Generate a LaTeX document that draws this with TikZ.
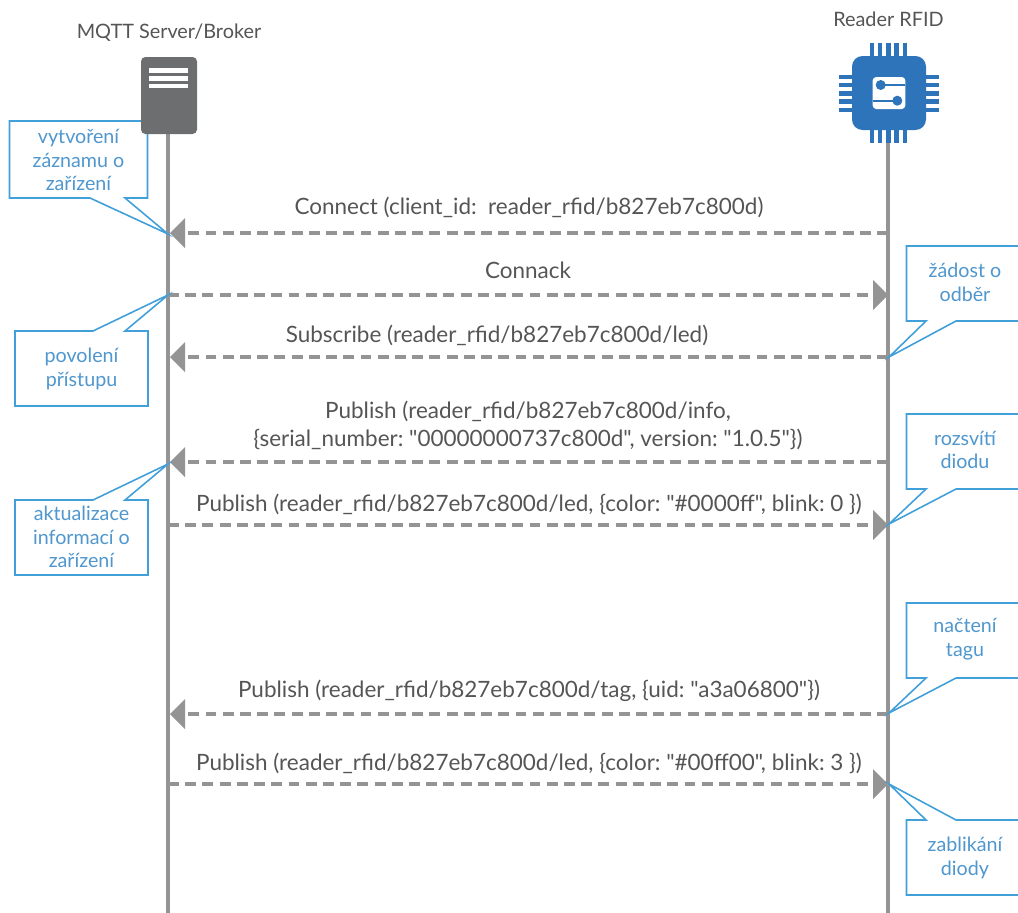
\documentclass[tikz,border=0pt]{standalone}
\usepackage{fontspec}
\setmainfont{Lato}[Ligatures=TeXOff]
\frenchspacing
\usepackage{tikz}
\usetikzlibrary{calc}
\definecolor{lifegray}{HTML}{949494}
\definecolor{servgray}{HTML}{6D6E70}
\definecolor{chipblue}{HTML}{2E74BA}
\definecolor{notelinecol}{HTML}{41A0DA}
\definecolor{notetext}{HTML}{4F97CE}
\definecolor{msgtext}{HTML}{555555}
\tikzset{
  lifeline/.style={lifegray,line width=2pt},
  msg/.style={lifegray,line width=2pt,dash pattern=on 6.2pt off 3.6pt},
  tip/.style={fill=lifegray,draw=none},
  msglabel/.style={text=msgtext,font=\fontsize{12.8}{15.9}\selectfont,align=center,inner sep=0pt},
  headlabel/.style={text=msgtext,font=\fontsize{11.3}{13}\selectfont,inner sep=0pt},
  notebox/.style={draw=notelinecol,fill=white,line width=0.9pt,line join=miter},
  notelabel/.style={text=notetext,font=\fontsize{11.2}{13.5}\selectfont,align=center,inner sep=0pt},
  chippart/.style={fill=chipblue,draw=none},
}
\begin{document}
\begin{tikzpicture}[x=0.02cm,y=-0.02cm]
  \useasboundingbox (0,0) rectangle (1018,913);

  % lifelines
  \coordinate (srvtop) at (168,134);
  \coordinate (srvend) at (168,913);
  \coordinate (rdrtop) at (888,140);
  \coordinate (rdrend) at (888,913);
  \draw[lifeline] (srvtop) -- (srvend);
  \draw[lifeline] (rdrtop) -- (rdrend);

  % messages
  \foreach \name/\y in {a/233,b/295,c/357,d/462,e/525,f/714,g/784} {
    \coordinate (srv\name) at (168,\y);
    \coordinate (rdr\name) at (888,\y);
  }
  \foreach \name in {a,c,d,f} {
    \draw[msg] (rdr\name) -- ($(srv\name)+(17,0)$);
    \fill[tip] ($(srv\name)+(2,0)$) -- ++(15,-15) -- ++(0,30) -- cycle;
  }
  \foreach \name in {b,e,g} {
    \draw[msg] (srv\name) -- ($(rdr\name)+(-15,0)$);
    \fill[tip] (rdr\name) -- ++(-15,-15) -- ++(0,30) -- cycle;
  }

  \node[msglabel] (msga) at (529,207) {Connect (client\_id:\ \ reader\_rfid/b827eb7c800d)};
  \node[msglabel] (msgb) at (528,270) {Connack};
  \node[msglabel] (msgc) at (497,335) {Subscribe (reader\_rfid/b827eb7c800d/led)};
  \node[msglabel] (msgd) at (528,425) {Publish (reader\_rfid/b827eb7c800d/info,\\\{serial\_number: "00000000737c800d", version: "1.0.5"\})};
  \node[msglabel] (msge) at (529,504) {Publish (reader\_rfid/b827eb7c800d/led, \{color: "\#0000ff", blink: 0 \})};
  \node[msglabel] (msgf) at (529,691) {Publish (reader\_rfid/b827eb7c800d/tag, \{uid: "a3a06800"\})};
  \node[msglabel] (msgg) at (529,763) {Publish (reader\_rfid/b827eb7c800d/led, \{color: "\#00ff00", blink: 3 \})};

  % notes
  \draw[notebox] (9.5,121) -- (147.5,121) -- (147.5,198) -- (125,198) -- (168,234) -- (90,198) -- (9.5,198) -- cycle;
  \node[notelabel] (notea) at (78.5,160) {vytvoření\\záznamu o\\zařízení};
  \draw[notebox] (15,331) -- (93,331) -- (168,295) -- (125,331) -- (148,331) -- (148,406) -- (15,406) -- cycle;
  \node[notelabel] (noteb) at (81.5,369) {povolení\\přístupu};
  \draw[notebox] (15,500) -- (93,500) -- (168,464) -- (125,500) -- (148,500) -- (148,575) -- (15,575) -- cycle;
  \node[notelabel] (notec) at (81.5,537) {aktualizace\\informací o\\zařízení};
  \foreach \name/\y/\tipy/\txt in {d/246/357/žádost o\\odběr,e/414/524/rozsvítí\\diodu,f/603/713/načtení\\tagu} {
    \draw[notebox] (1030,\y) -- (906.5,\y) -- (906.5,\y+75) -- (926,\y+75) -- (889,\tipy) -- (956,\y+75) -- (1030,\y+75);
    \node[notelabel] (note\name) at (965,\y+36) {\txt};
  }
  \draw[notebox] (1030,820) -- (956,820) -- (889,784) -- (926,820) -- (906.5,820) -- (906.5,895) -- (1030,895);
  \node[notelabel] (noteg) at (965,858) {zablikání\\diody};

  % server icon
  \fill[servgray,rounded corners=2.5pt] (141,57) rectangle (197,134);
  \foreach \y in {68.3,76.3,83.7} {
    \fill[white] (149,\y) rectangle (188,\y+4.2);
  }
  \node[headlabel] (srvname) at (169,33) {MQTT Server/Broker};

  % chip icon
  \foreach \i in {0,...,4} {
    \fill[chippart] (869.5+8.33*\i,43) rectangle ++(4.6,100);
    \fill[chippart] (839,74.5+8.33*\i) rectangle ++(100,4.6);
  }
  \fill[chipblue,rounded corners=6pt] (852,56) rectangle (926,130);
  \fill[white,rounded corners=2pt] (872.7,77) rectangle (905.3,109);
  \fill[chipblue] (880.7,85) circle (5);
  \fill[chipblue] (897.3,100.7) circle (5);
  \draw[chipblue,line width=1.2pt] (880.7,85) -- (905.3,85);
  \draw[chipblue,line width=1.2pt] (872.7,100.7) -- (897.3,100.7);
  \node[headlabel] (rdrname) at (888.5,19) {Reader RFID};
\end{tikzpicture}
\end{document}
